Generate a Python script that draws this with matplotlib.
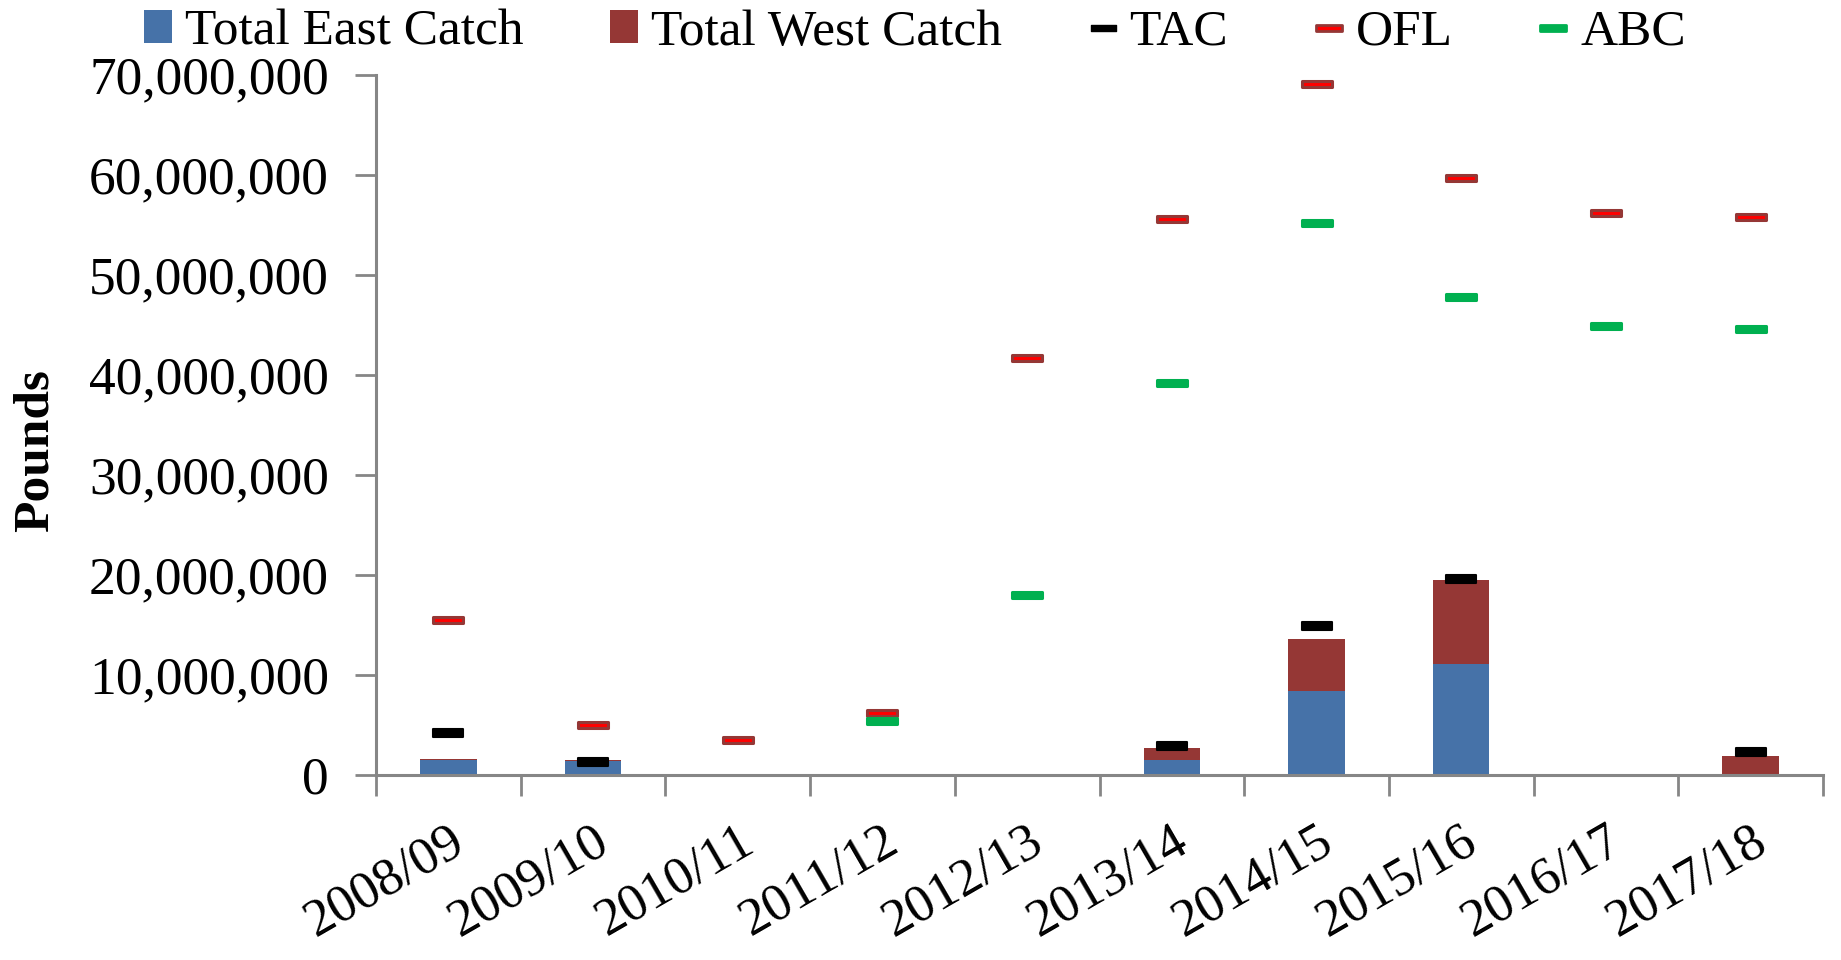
import numpy as np
import matplotlib.pyplot as plt
from matplotlib.path import Path
from matplotlib.patches import Patch
from matplotlib.lines import Line2D
from matplotlib.ticker import FuncFormatter

seasons = ['2008/09', '2009/10', '2010/11', '2011/12', '2012/13',
           '2013/14', '2014/15', '2015/16', '2016/17', '2017/18']
east = [1550000, 1400000, 0, 0, 0, 1500000, 8400000, 11100000, 0, 0]
west = [100000, 100000, 0, 0, 0, 1200000, 5200000, 8400000, 0, 1950000]
tac = [4200000, 1350000, np.nan, np.nan, np.nan, 2900000, 14900000, 19600000, np.nan, 2300000]
ofl = [15500000, 5050000, 3500000, 6200000, 41700000, 55600000, 69100000, 59700000, 56200000, 55800000]
abc = [np.nan, np.nan, np.nan, 5400000, 18000000, 39200000, 55200000, 47800000, 44900000, 44600000]

plt.rcParams['font.family'] = 'Liberation Serif'
fs = 37
tfs = 38.5
blue = '#4672A8'
darkred = '#953735'
green = '#00B050'
spine = '#868686'

def rect(h):
    return Path([(-1, -h), (1, -h), (1, h), (-1, h), (-1, -h)],
                [Path.MOVETO, Path.LINETO, Path.LINETO, Path.LINETO, Path.CLOSEPOLY])

fig = plt.figure(figsize=(18.41, 9.6), dpi=100)
ax = fig.add_axes([376/1841, 1-775/960, (1823-376)/1841, 700/960])

x = np.arange(len(seasons))
ax.bar(x, east, width=0.39, color=blue, zorder=2)
ax.bar(x, west, width=0.39, bottom=east, color=darkred, zorder=2)
ax.plot(x, tac, ls='none', marker=rect(0.28), ms=22, mfc='black', mec='black', mew=1.5, zorder=3)
ax.plot(x, ofl, ls='none', marker=rect(0.2), ms=22, mfc='red', mec=darkred, mew=2.2, zorder=3)
ax.plot(x, abc, ls='none', marker=rect(0.2), ms=22, mfc=green, mec=green, mew=2.2, zorder=4)

ax.set_xlim(-0.5, 9.5)
ax.set_ylim(0, 70000000)
ax.set_yticks(np.arange(0, 70000001, 10000000))
ax.yaxis.set_major_formatter(FuncFormatter(lambda v, p: f'{v:,.0f}'))
ax.tick_params(axis='y', labelsize=tfs, length=15, width=2, color=spine, pad=19)

ax.set_xticks(x, seasons)
ax.set_xticks(np.arange(-0.5, 10, 1), minor=True)
ax.tick_params(axis='x', which='major', length=0, labelsize=tfs, pad=30)
ax.tick_params(axis='x', which='minor', length=15, width=2, color=spine)
for lab in ax.get_xticklabels():
    lab.set_rotation(30)
    lab.set_ha('right')
    lab.set_va('top')
    lab.set_rotation_mode('anchor')

for s in ['top', 'right']:
    ax.spines[s].set_visible(False)
for s in ['left', 'bottom']:
    ax.spines[s].set_color(spine)
    ax.spines[s].set_linewidth(2.2)

ax.set_ylabel('Pounds', fontsize=fs, fontweight='bold')
ax.yaxis.set_label_coords(-0.2196, 0.463)

handles = [
    Patch(facecolor=blue, label='Total East Catch'),
    Patch(facecolor=darkred, label='Total West Catch'),
    Line2D([], [], ls='none', marker=rect(0.25), ms=18, mfc='black', mec='black', mew=1, label='TAC'),
    Line2D([], [], ls='none', marker=rect(0.2), ms=19, mfc='red', mec=darkred, mew=2, label='OFL'),
    Line2D([], [], ls='none', marker=rect(0.2), ms=19, mfc=green, mec=green, mew=2, label='ABC'),
]
fig.legend(handles=handles, loc='center', bbox_to_anchor=(0.497, 0.966), ncol=5, frameon=False,
           fontsize=fs, handlelength=0.55, handleheight=0.6, handletextpad=0.25, columnspacing=1.68,
           borderpad=0)

fig.savefig('out.png', dpi=100)
